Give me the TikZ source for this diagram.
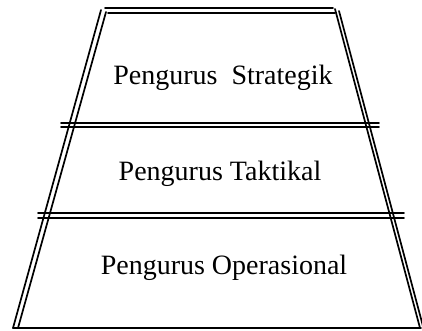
\documentclass[tikz,border=0pt]{standalone}
\usepackage{fontspec}
\setmainfont{Liberation Serif}
\begin{document}
\begin{tikzpicture}[x=1pt,y=-1pt,
  edge/.style={line width=1.7pt, line cap=round},
  lbl/.style={font=\fontsize{28}{32}\selectfont, inner sep=0pt}]
\useasboundingbox (0,0) rectangle (422,330);
% top
\draw[edge] (105,8) -- (333,8);
\draw[edge] (108,13) -- (335,13);
% left side
\draw[edge] (101,10) -- (13,328);
\draw[edge] (106,12) -- (18,328);
% right side
\draw[edge] (335,9) -- (420,328);
\draw[edge] (339,11) -- (424,330);
% horizontal divider 1
\draw[edge] (61,123) -- (379,123);
\draw[edge] (61,127) -- (379,127);
% horizontal divider 2
\draw[edge] (38,213) -- (404,213);
\draw[edge] (38,218) -- (404,218);
% bottom
\draw[edge] (13,328) -- (421,328);
% labels
\node[lbl] (strat) at (223,78) {Pengurus\ \ Strategik};
\node[lbl] (takt) at (220,174) {Pengurus Taktikal};
\node[lbl] (oper) at (224,268) {Pengurus Operasional};
\end{tikzpicture}
\end{document}
